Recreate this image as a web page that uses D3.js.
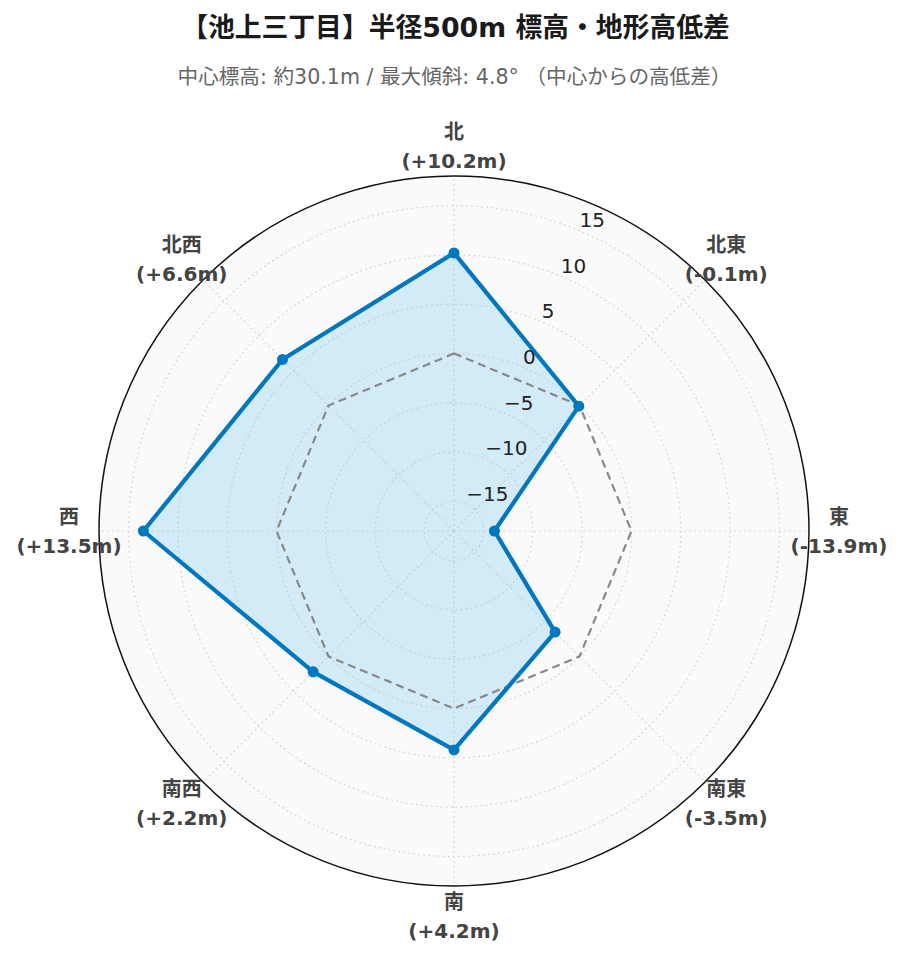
<!DOCTYPE html>
<html>
<head>
<meta charset="utf-8">
<script src="https://cdn.jsdelivr.net/npm/d3@7"></script>
<style>
  html, body { margin: 0; padding: 0; background: #ffffff; }
  svg { display: block; }
  text { font-family: "DejaVu Sans", "Noto Sans CJK JP", sans-serif; }
</style>
</head>
<body>
<svg id="chart" width="903" height="962"></svg>
<script>
// ---- data ----
const titleText = "【池上三丁目】半径500m 標高・地形高低差";
const subtitleText = "中心標高: 約30.1m / 最大傾斜: 4.8° （中心からの高低差）";
const directions = ["北", "北東", "東", "南東", "南", "南西", "西", "北西"];
const elevationDiff = [10.2, -0.1, -13.9, -3.5, 4.2, 2.2, 13.5, 6.6];
const referenceValues = [0, 0, 0, 0, 0, 0, 0, 0];
const radialTicks = [-15, -10, -5, 0, 5, 10, 15];
const radialRange = [-18, 18];

// ---- layout ----
const W = 903, H = 962;
const cx = 454, cy = 531, R = 355;
const svg = d3.select("#chart");

const rScale = d3.scaleLinear().domain(radialRange).range([0, R]);
const angleScale = d3.scalePoint().domain(directions).range([0, 2 * Math.PI * 7 / 8]);
const pt = (ang, r) => [cx + r * Math.sin(ang), cy - r * Math.cos(ang)];

// title
svg.append("text").attr("x", W / 2 + 4).attr("y", 37)
  .attr("text-anchor", "middle").attr("font-size", 26.8).attr("font-weight", "bold")
  .attr("fill", "#1a1a1a").text(titleText);
svg.append("text").attr("x", W / 2 + 3).attr("y", 84)
  .attr("text-anchor", "middle").attr("font-size", 20.6)
  .attr("fill", "#666666").text(subtitleText);

const g = svg.append("g");

// background
g.append("circle").attr("cx", cx).attr("cy", cy).attr("r", R).attr("fill", "#fafafa");

// grid circles
g.selectAll("circle.grid").data(radialTicks).enter().append("circle")
  .attr("class", "grid").attr("cx", cx).attr("cy", cy)
  .attr("r", d => rScale(d)).attr("fill", "none")
  .attr("stroke", "#d9d9d9").attr("stroke-width", 1.2).attr("stroke-dasharray", "2,3");

// spokes
g.selectAll("line.spoke").data(directions).enter().append("line")
  .attr("class", "spoke")
  .attr("x1", cx).attr("y1", cy)
  .attr("x2", d => pt(angleScale(d), R)[0]).attr("y2", d => pt(angleScale(d), R)[1])
  .attr("stroke", "#d9d9d9").attr("stroke-width", 1.2).attr("stroke-dasharray", "2,3");

const radial = d3.lineRadial()
  .angle((d, i) => angleScale(directions[i]))
  .radius(d => rScale(d))
  .curve(d3.curveLinearClosed);

// data fill
g.append("path").attr("transform", `translate(${cx},${cy})`)
  .attr("d", radial(elevationDiff))
  .attr("fill", "rgba(135,206,240,0.34)").attr("stroke", "none");

// reference (0) dashed
g.append("path").attr("transform", `translate(${cx},${cy})`)
  .attr("d", radial(referenceValues))
  .attr("fill", "none").attr("stroke", "#888888").attr("stroke-width", 2.2)
  .attr("stroke-dasharray", "8,5");

// data line
g.append("path").attr("transform", `translate(${cx},${cy})`)
  .attr("d", radial(elevationDiff))
  .attr("fill", "none").attr("stroke", "#0077be").attr("stroke-width", 4.2)
  .attr("stroke-linejoin", "round");

// markers
g.selectAll("circle.pt").data(elevationDiff).enter().append("circle")
  .attr("class", "pt")
  .attr("cx", (d, i) => pt(angleScale(directions[i]), rScale(d))[0])
  .attr("cy", (d, i) => pt(angleScale(directions[i]), rScale(d))[1])
  .attr("r", 5.5).attr("fill", "#0077be");

// outer circle
g.append("circle").attr("cx", cx).attr("cy", cy).attr("r", R)
  .attr("fill", "none").attr("stroke", "#111").attr("stroke-width", 1.5);

// radial tick labels
const axisAngle = Math.PI / 8;
const fmt = d3.format("d");
g.selectAll("text.rtick").data(radialTicks).enter().append("text")
  .attr("class", "rtick")
  .attr("x", d => pt(axisAngle, rScale(d))[0] + 1)
  .attr("y", d => pt(axisAngle, rScale(d))[1] - 3)
  .attr("text-anchor", "start").attr("font-size", 20)
  .attr("fill", "#222").text(d => fmt(d));

// angular labels
const labR = R + 30;
const signed = v => (v >= 0 ? "+" : "-") + Math.abs(v).toFixed(1);
directions.forEach((d, i) => {
  const [x, y] = pt(angleScale(d), labR);
  const t = g.append("text").attr("x", x).attr("y", y)
    .attr("text-anchor", "middle").attr("font-size", 20).attr("font-weight", "bold")
    .attr("fill", "#444");
  t.append("tspan").attr("x", x).attr("y", y - 7).text(d);
  t.append("tspan").attr("x", x).attr("y", y + 22).text("(" + signed(elevationDiff[i]) + "m)");
});
</script>
</body>
</html>
